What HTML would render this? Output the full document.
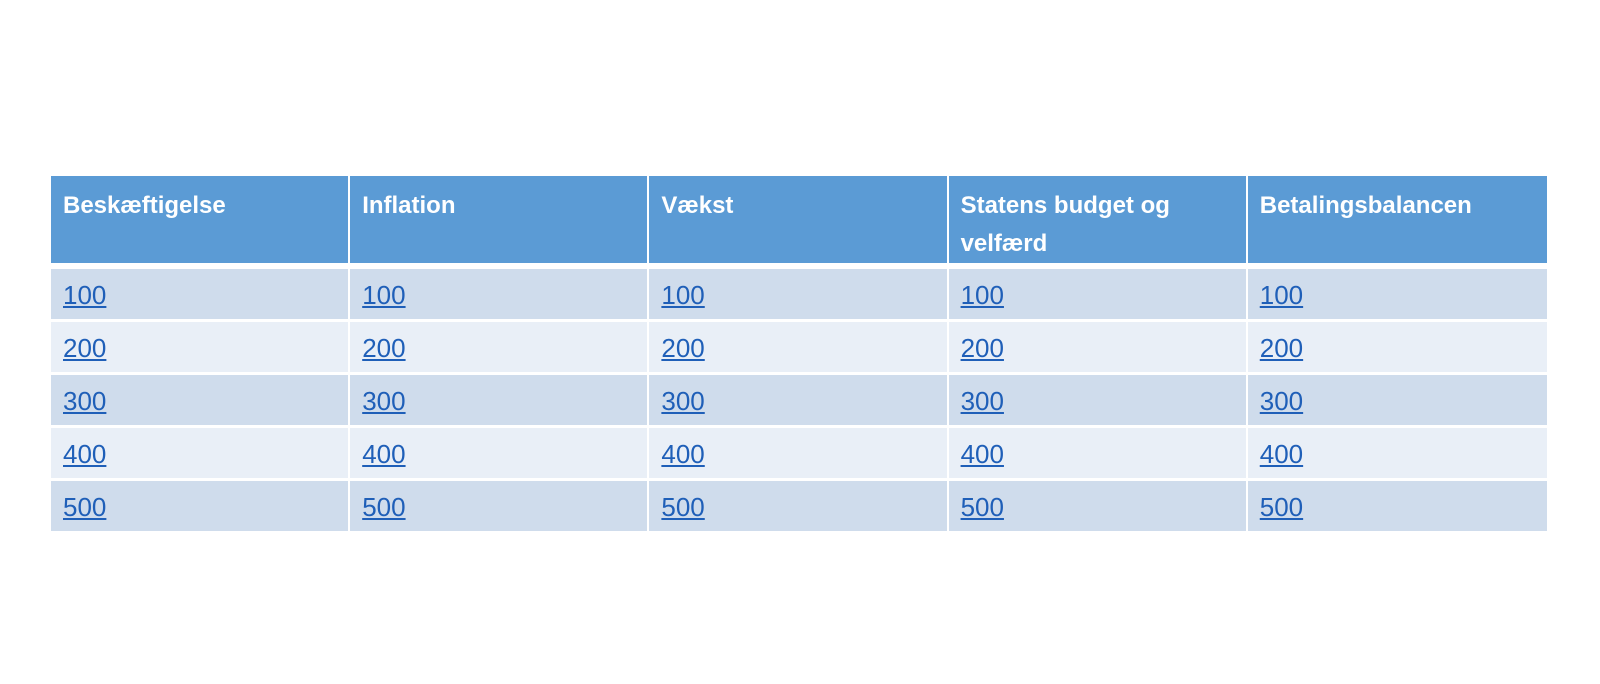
<!DOCTYPE html>
<html><head><style>
body{margin:0;width:1600px;height:684px;background:#fff;position:relative;overflow:hidden;font-family:"Liberation Sans",sans-serif}
table{position:absolute;left:51px;top:176px;width:1496px;border-collapse:separate;border-spacing:0}
td{padding:3px 0 0 12px;border-right:2px solid #fff;border-bottom:3px solid #fff;vertical-align:top;box-sizing:border-box;width:299px}
td:last-child{border-right:none}
th{background:#5b9bd5;color:#fff;font-weight:bold;font-size:24px;text-align:left;vertical-align:top;padding:11px 12px 0 12px;height:87px;border-right:2px solid #fff;border-bottom:6px solid #fff;box-sizing:border-box;line-height:38px}
th:last-child{border-right:none}
td{height:53px;font-size:26px;line-height:47px}
td a{color:#1f5fb8;text-decoration:underline}
tr.o td{background:#cfdcec}
tr.e td{background:#e9eff7}
</style></head><body>
<table>
<tr><th>Beskæftigelse</th><th>Inflation</th><th>Vækst</th><th>Statens budget og velfærd</th><th>Betalingsbalancen</th></tr>
<tr class="o"><td><a>100</a></td><td><a>100</a></td><td><a>100</a></td><td><a>100</a></td><td><a>100</a></td></tr>
<tr class="e"><td><a>200</a></td><td><a>200</a></td><td><a>200</a></td><td><a>200</a></td><td><a>200</a></td></tr>
<tr class="o"><td><a>300</a></td><td><a>300</a></td><td><a>300</a></td><td><a>300</a></td><td><a>300</a></td></tr>
<tr class="e"><td><a>400</a></td><td><a>400</a></td><td><a>400</a></td><td><a>400</a></td><td><a>400</a></td></tr>
<tr class="o"><td><a>500</a></td><td><a>500</a></td><td><a>500</a></td><td><a>500</a></td><td><a>500</a></td></tr>
</table>
</body></html>
